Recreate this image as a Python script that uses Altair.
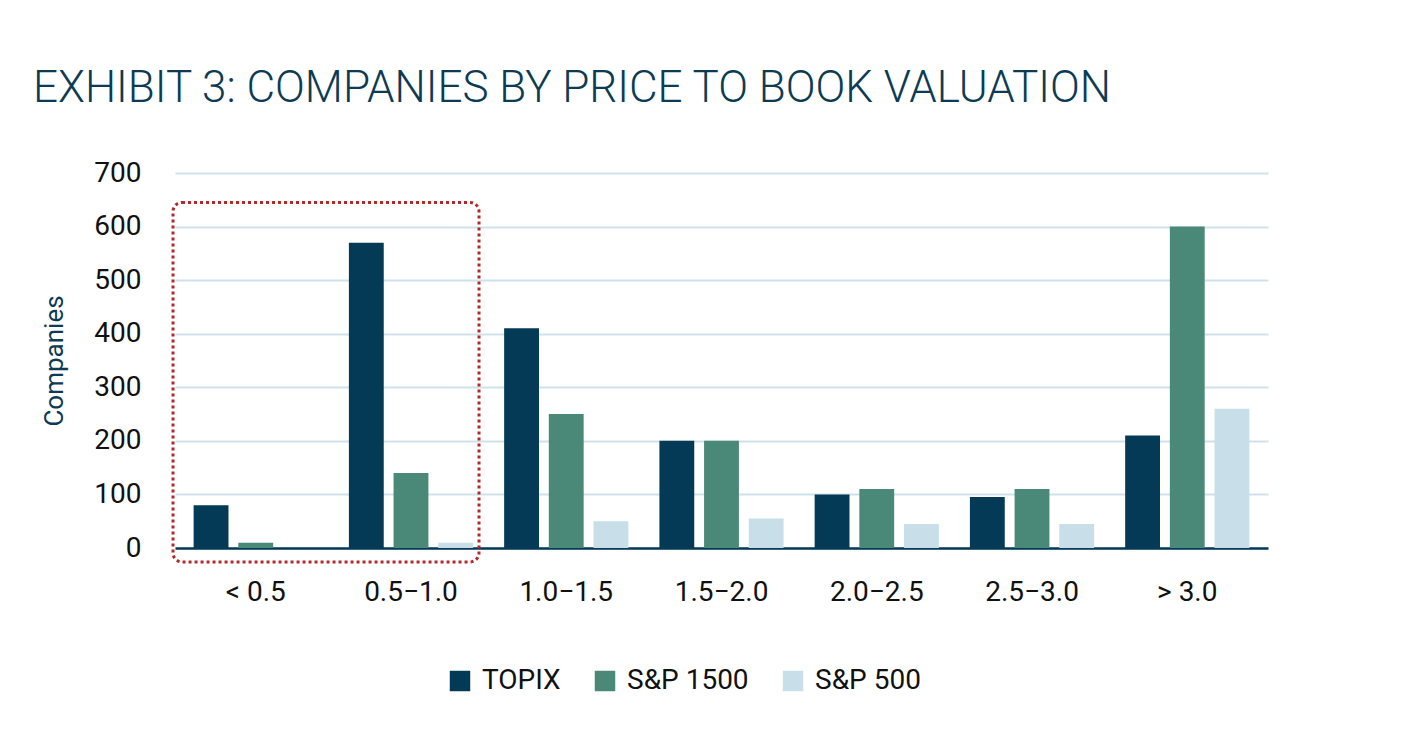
import altair as alt
import pandas as pd

categories = ["< 0.5", "0.5\u22121.0", "1.0\u22121.5", "1.5\u22122.0", "2.0\u22122.5", "2.5\u22123.0", "> 3.0"]
series = ["TOPIX", "S&P 1500", "S&P 500"]
topix = [80, 570, 410, 200, 100, 95, 210]
sp1500 = [10, 140, 250, 200, 110, 110, 600]
sp500 = [0, 10, 50, 55, 45, 45, 260]
colors = ["#053a56", "#4a8977", "#c8dee8"]

rows = []
for i, c in enumerate(categories):
    for s, vals in zip(series, [topix, sp1500, sp500]):
        rows.append({"cat": c, "series": s, "value": vals[i]})
df = pd.DataFrame(rows)

W, H = 1093, 375

bars = alt.Chart(df).mark_bar().encode(
    x=alt.X("cat:N", sort=categories, title=None,
            scale=alt.Scale(paddingInner=0.2, paddingOuter=0.12),
            axis=alt.Axis(labelAngle=0, labelFontSize=28, labelFont="Roboto",
                          labelColor="#111111", labelPadding=30, ticks=False, grid=False,
                          domainColor="#053a56", domainWidth=2.5)),
    xOffset=alt.XOffset("series:N", sort=series, scale=alt.Scale(paddingInner=0.22)),
    y=alt.Y("value:Q", title="Companies",
            scale=alt.Scale(domain=[0, 700], nice=False),
            axis=alt.Axis(values=[0, 100, 200, 300, 400, 500, 600, 700], domain=False, ticks=False,
                          labelFontSize=28, labelFont="Roboto", labelColor="#111111",
                          labelPadding=34, gridColor="#cfe2eb", gridWidth=2,
                          titleFont="Roboto", titleFontSize=26, titleFontWeight="normal",
                          titleColor="#0d3b54", titlePadding=26)),
    color=alt.Color("series:N", sort=series,
                    scale=alt.Scale(domain=series, range=colors),
                    legend=alt.Legend(title=None, orient="none", direction="horizontal",
                                      legendX=271, legendY=494, symbolType="square",
                                      symbolSize=420, symbolStrokeWidth=0,
                                      labelFontSize=28, labelFont="Roboto", labelColor="#111111",
                                      columnPadding=30, labelOffset=8)),
)

box_df = pd.DataFrame({"top": [645], "bottom": [-26]})
box = alt.Chart(box_df).mark_rect(filled=False, stroke="#b5282a", strokeWidth=3,
                                  strokeDash=[3, 3], cornerRadius=9).encode(
    x=alt.value(-2), x2=alt.value(304),
    y="top:Q", y2="bottom:Q",
)

chart = alt.layer(bars, box).properties(
    width=W, height=H,
    title=alt.Title("EXHIBIT 3: COMPANIES BY PRICE TO BOOK VALUATION", anchor="start",
                    frame="group", font="Roboto", fontSize=44, fontWeight=300, color="#0d3b54",
                    dx=-142, offset=48),
    autosize=alt.AutoSizeParams(type="none"),
    padding={"left": 167, "top": 165, "right": 110, "bottom": 170},
    background="white",
).configure_view(stroke=None)

chart.save("out.html", embed_options={"renderer": "svg", "actions": False})
